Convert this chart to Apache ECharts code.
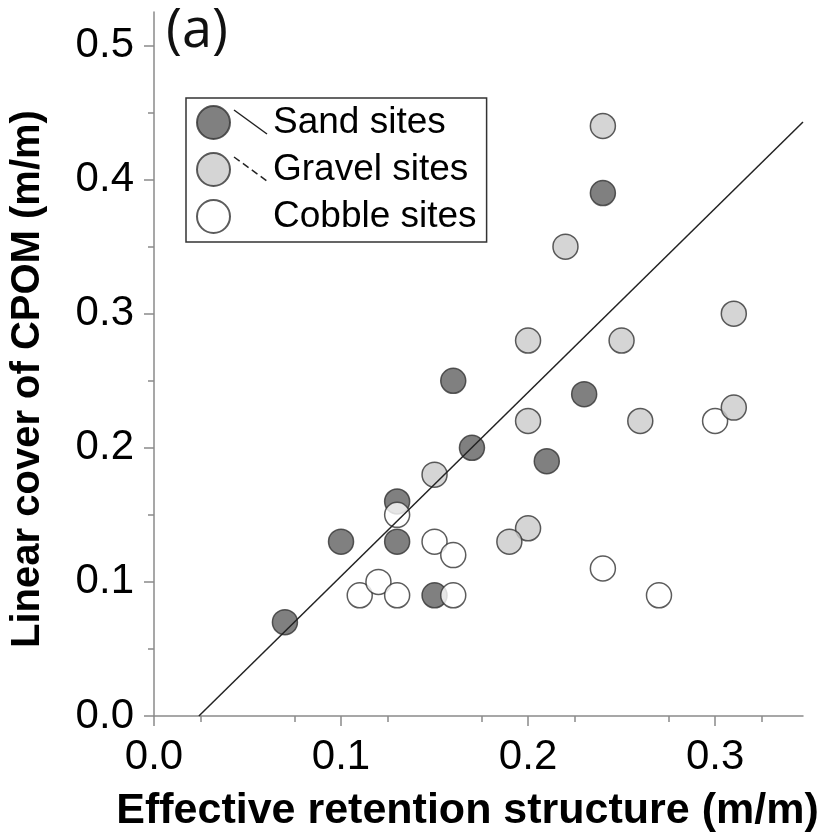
<!DOCTYPE html>
<html><head><meta charset="utf-8">
<script src="https://cdn.jsdelivr.net/npm/echarts@6/dist/echarts.min.js"></script>
<style>html,body{margin:0;padding:0;background:#fff}#c{width:833px;height:839px}</style>
</head><body><div id="c"></div>
<script>
const seriesNames = ['Sand sites', 'Gravel sites', 'Cobble sites'];
const sandX = [0.07, 0.10, 0.13, 0.13, 0.15, 0.16, 0.17, 0.21, 0.23, 0.24];
const sandY = [0.07, 0.13, 0.16, 0.13, 0.09, 0.25, 0.20, 0.19, 0.24, 0.39];
const gravelX = [0.15, 0.20, 0.19, 0.20, 0.20, 0.22, 0.24, 0.25, 0.26, 0.31, 0.31];
const gravelY = [0.18, 0.14, 0.13, 0.22, 0.28, 0.35, 0.44, 0.28, 0.22, 0.30, 0.23];
const cobbleX = [0.11, 0.12, 0.13, 0.13, 0.15, 0.16, 0.16, 0.24, 0.27, 0.30];
const cobbleY = [0.09, 0.10, 0.09, 0.15, 0.13, 0.12, 0.09, 0.11, 0.09, 0.22];
const fitX = [0.024, 0.347];
const fitY = [0.0, 0.443];
const xTicks = [0.0, 0.1, 0.2, 0.3];
const yTicks = [0.0, 0.1, 0.2, 0.3, 0.4, 0.5];
const xTitle = 'Effective retention structure (m/m)';
const yTitle = 'Linear cover of CPOM (m/m)';
const panelLabel = '(a)';

const zip = (a, b) => a.map((v, i) => [v, b[i]]);
const FONT = '"Liberation Sans", Arial, sans-serif';
const axisGray = '#8a8a8a';
const markerBorder = { borderColor: '#333', borderWidth: 1.5 };

const chart = echarts.init(document.getElementById('c'), null, { renderer: 'canvas' });
chart.setOption({
  animation: false,
  backgroundColor: '#fff',
  grid: { left: 152, top: 12, width: 651, height: 704 },
  xAxis: {
    type: 'value', min: 0, max: 0.347,
    splitLine: { show: false },
    axisLine: { show: true, lineStyle: { color: axisGray, width: 1.5 } },
    axisTick: { show: true, length: 10, customValues: xTicks, lineStyle: { color: axisGray, width: 1.5 } },
    minorTick: { show: true, splitNumber: 2, length: 6, lineStyle: { color: axisGray, width: 1.5 } },
    axisLabel: { customValues: xTicks, formatter: v => v.toFixed(1), fontSize: 42, color: '#000', fontFamily: FONT, margin: 20 },
    name: xTitle, nameLocation: 'middle', nameGap: 74,
    nameTextStyle: { fontSize: 43, fontWeight: 'bold', color: '#000', fontFamily: FONT, padding: [0, 22, 0, 0] }
  },
  yAxis: {
    type: 'value', min: 0, max: 0.525,
    splitLine: { show: false },
    axisLine: { show: true, lineStyle: { color: axisGray, width: 1.5 } },
    axisTick: { show: true, length: 10, customValues: yTicks, lineStyle: { color: axisGray, width: 1.5 } },
    minorTick: { show: true, splitNumber: 2, length: 6, lineStyle: { color: axisGray, width: 1.5 } },
    axisLabel: { customValues: yTicks, formatter: v => v.toFixed(1), fontSize: 42, color: '#000', fontFamily: FONT, margin: 20 },
    name: yTitle, nameLocation: 'middle', nameGap: 106, nameRotate: 90,
    nameTextStyle: { fontSize: 40, fontWeight: 'bold', color: '#000', fontFamily: FONT, padding: [0, 30, 0, 0] }
  },
  legend: {
    data: seriesNames,
    orient: 'vertical', left: 186, top: 98,
    padding: [6, 10, 7, 10],
    itemWidth: 33, itemHeight: 33, itemGap: 10,
    icon: 'circle',
    borderColor: '#333', borderWidth: 1.5,
    textStyle: { fontSize: 37, color: '#000', fontFamily: FONT, padding: [0, 0, 0, 38] }
  },
  graphic: [
    { type: 'text', left: 166, top: 5, style: { text: panelLabel, fontSize: 54, fill: '#111', fontFamily: '"Open Sans", "Noto Sans", sans-serif' } },
    { type: 'line', shape: { x1: 234, y1: 110, x2: 267, y2: 134 }, style: { stroke: '#222', lineWidth: 1.5 }, z: 100 },
    { type: 'line', shape: { x1: 234, y1: 157, x2: 267, y2: 181 }, style: { stroke: '#222', lineWidth: 1.5, lineDash: [7, 4] }, z: 100 }
  ],
  series: [
    { name: seriesNames[0], type: 'scatter', z: 2, symbol: 'circle', symbolSize: 25, data: zip(sandX, sandY),
      itemStyle: Object.assign({ color: '#606060' }, markerBorder) },
    { name: seriesNames[1], type: 'scatter', z: 4, symbol: 'circle', symbolSize: 25, data: zip(gravelX, gravelY),
      itemStyle: Object.assign({ color: '#cbcbcb' }, markerBorder) },
    { name: seriesNames[2], type: 'scatter', z: 3, symbol: 'circle', symbolSize: 25, data: zip(cobbleX, cobbleY),
      itemStyle: Object.assign({ color: '#ffffff' }, markerBorder) },
    { name: 'fit', type: 'line', z: 5, data: zip(fitX, fitY), showSymbol: false, symbol: 'none',
      lineStyle: { color: '#222', width: 1.5 } }
  ]
});
</script></body></html>
